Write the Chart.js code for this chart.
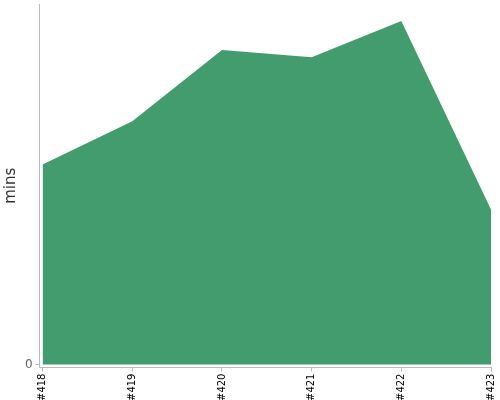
<!DOCTYPE html>
<html><head><meta charset="utf-8">
<script src="https://cdn.jsdelivr.net/npm/chart.js@4/dist/chart.umd.min.js"></script>
<style>html,body{margin:0;padding:0;background:#fff}#w{width:500px;height:400px}</style>
</head><body><div id="w"><canvas id="c"></canvas></div>
<script>
const categories = ["#418", "#419", "#420", "#421", "#422", "#423"];
const minsValues = [22.2, 27.0, 34.9, 34.1, 38.1, 17.2];
const yTickLabels = [0];

const pts = minsValues.map((v, i) => ({x: i, y: v}));
new Chart(document.getElementById('c'), {
  type: 'line',
  data: { datasets: [{ data: pts, fill: 'origin', backgroundColor: 'rgb(67,156,109)', borderWidth: 0, pointRadius: 0, tension: 0 }] },
  options: {
    responsive: true, maintainAspectRatio: false, animation: false,
    layout: { padding: { top: 4, right: 0, left: 0, bottom: 0 } },
    plugins: { legend: { display: false }, tooltip: { enabled: false } },
    scales: {
      x: {
        type: 'linear', min: -0.033, max: categories.length - 1,
        afterBuildTicks: s => { s.ticks = categories.map((c, i) => ({ value: i })); },
        afterFit: s => { s.paddingRight = 9; s.height = s.height - 3; },
        ticks: { callback: v => categories[v], maxRotation: 90, minRotation: 90, color: '#000', font: { family: 'DejaVu Sans', size: 10 }, padding: 2, autoSkip: false },
        grid: { drawOnChartArea: false, tickLength: 4, color: '#bbb' },
        border: { color: '#bbb' }
      },
      y: {
        min: -0.335, max: 40,
        afterBuildTicks: s => { s.ticks = yTickLabels.map(v => ({ value: v })); },
        afterFit: s => { s.paddingTop = 0; },
        ticks: { color: '#666', font: { family: 'DejaVu Sans', size: 12 }, padding: 3 },
        grid: { drawOnChartArea: false, tickLength: 4, color: '#bbb' },
        border: { color: '#bbb' },
        title: { display: true, text: 'mins', color: '#333', font: { family: 'DejaVu Sans', size: 15 }, padding: 2 }
      }
    }
  }
});
</script></body></html>
